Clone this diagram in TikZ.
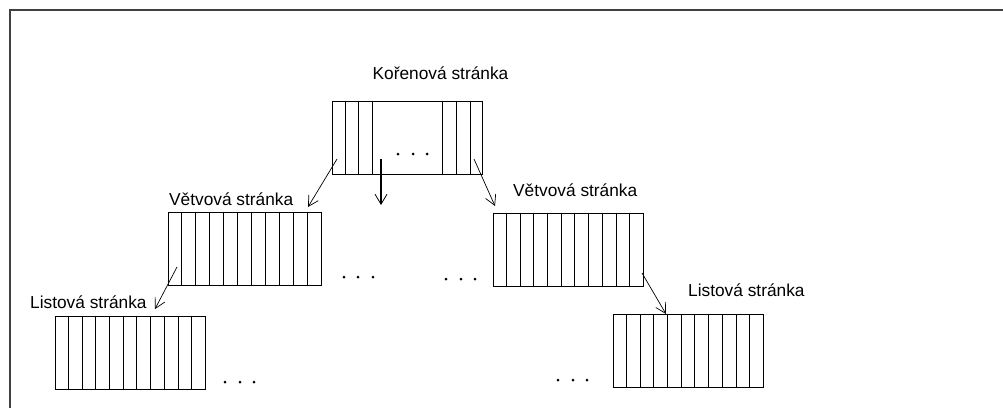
\documentclass[tikz,border=0pt]{standalone}
\usepackage{fontspec}
\setmainfont{Liberation Sans}
\usetikzlibrary{arrows.meta,calc}

\tikzset{
  page/.style={draw, line width=0.8pt, inner sep=0pt, minimum height=73pt},
  pagelabel/.style={anchor=base west, inner sep=0pt, font=\fontsize{17.3}{20}\selectfont},
  link/.style={line width=0.7pt, -{Straight Barb[length=10pt,width=11pt]}},
  thicklink/.style={line width=1.8pt, -{Straight Barb[length=10pt,width=12pt,line width=0.8pt]}},
  framing/.style={line width=1.4pt, draw=black!75},
  dot/.style={fill=black, draw=none}
}

\begin{document}
\begin{tikzpicture}[x=1pt, y=-1pt]
  \useasboundingbox (0,0) rectangle (1003,408);

  % outer frame (top and left edges)
  \draw[framing] (1003,10) -- (10,10) -- (10,408);

  % root page
  \node[page, minimum width=150pt] (root) at (407,137.5) {};
  \foreach \dx in {14,27,41,111,125,139}
    \draw[line width=0.8pt] ([xshift=\dx pt]root.north west) -- ([xshift=\dx pt]root.south west);
  \node[pagelabel] (rootlabel) at (372.5,79) {Kořenová stránka};

  % branch pages
  \node[page, minimum width=153pt] (bl) at (244.5,248.5) {};
  \node[page, minimum width=150pt] (br) at (568,249.5) {};
  % leaf pages
  \node[page, minimum width=150pt] (ll) at (130,352.5) {};
  \node[page, minimum width=150pt] (lr) at (688,351) {};

  % eleven slots per page
  \foreach \p in {bl,br,ll,lr}
    \foreach \i in {1,...,10}
      \draw[line width=0.8pt] ($(\p.north west)!\i/11!(\p.north east)$) -- ($(\p.south west)!\i/11!(\p.south east)$);

  \node[pagelabel] (bllabel) at (169,205) {Větvová stránka};
  \node[pagelabel] (brlabel) at (513,196) {Větvová stránka};
  \node[pagelabel] (lllabel) at (30,308) {Listová stránka};
  \node[pagelabel] (lrlabel) at (688,296) {Listová stránka};

  % pointers
  \coordinate (rA) at (337,159);
  \coordinate (rB) at (381,159);
  \coordinate (rC) at (474,159);
  \coordinate (tA) at (308,207);
  \coordinate (tB) at (381,205);
  \coordinate (tC) at (495,206);
  \coordinate (bA) at (177,267);
  \coordinate (uA) at (155,309);
  \coordinate (bC) at (642,273);
  \coordinate (uC) at (666,314);

  \draw[link] (rA) -- (tA);
  \draw[thicklink] (rB) -- (tB);
  \draw[link] (rC) -- (tC);
  \draw[link] (bA) -- (uA);
  \draw[link] (bC) -- (uC);

  % ellipses
  \foreach \x/\y in {398/154, 413/154, 427/154,
                     344/277, 358/277, 373/277,
                     446/279, 461/279, 475/279,
                     225/382, 240/382, 254/382,
                     558/380, 573/380, 587/380}
    \fill[dot] (\x,\y) circle (1.5pt);
\end{tikzpicture}
\end{document}
